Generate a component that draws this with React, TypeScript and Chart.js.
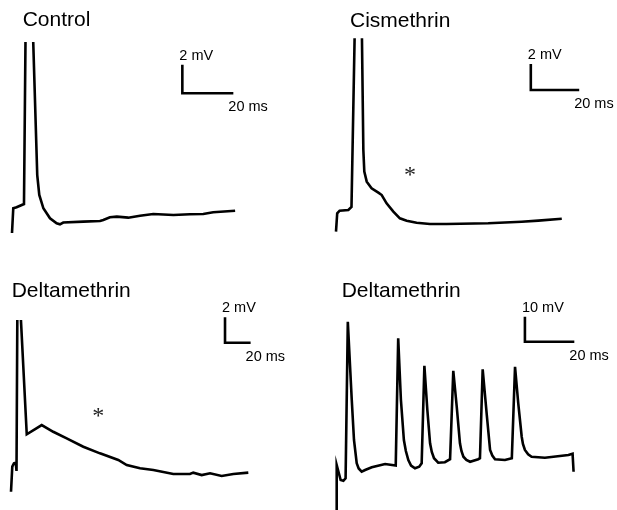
import { useEffect, useRef } from 'react';
import { Chart, registerables } from 'chart.js';

Chart.register(...registerables);

// ---------- data ----------
const panelTitles = ['Control', 'Cismethrin', 'Deltamethrin', 'Deltamethrin'];

const controlTimeMs = [0, 0.5, 1.8, 4.7, 6.0, 9.9, 10.7, 12.3, 14.9, 17.5, 18.8, 20.1, 28.0, 34.5, 35.8, 38.4, 41.1, 45.6, 50.2, 55.4, 63.3, 69.8, 75.0, 78.9, 87.5];
const controlMv = [0, 1.74, 1.81, 2.04, 27.3, 4.08, 2.68, 1.74, 1.04, 0.68, 0.61, 0.74, 0.8, 0.85, 0.92, 1.11, 1.15, 1.08, 1.22, 1.34, 1.27, 1.32, 1.34, 1.46, 1.57];

const cismethrinTimeMs = [0, 0.5, 1.5, 5.1, 6.4, 9.5, 11.3, 11.7, 12.7, 14.7, 17.5, 18.9, 20.9, 23.7, 26.4, 29.2, 33.3, 38.8, 45.7, 62.9, 76.7, 83.6, 93.3];
const cismethrinMv = [0, 1.42, 1.62, 1.67, 1.9, 33.2, 6.28, 4.62, 3.85, 3.34, 3.0, 2.82, 2.18, 1.54, 1.03, 0.85, 0.69, 0.59, 0.59, 0.65, 0.77, 0.85, 1.0];

const deltaSingleTimeMs = [0, 1.0, 2.3, 3.7, 4.3, 5.2, 12.3, 24.0, 33.0, 43.5, 56.5, 69.5, 83.8, 90.4, 100.8, 111.2, 126.8, 139.8, 142.4, 149.0, 155.5, 164.6, 173.7, 185.4];
const deltaSingleMv = [0, 1.97, 2.24, 2.28, 1.63, 18.6, 4.52, 5.25, 4.72, 4.2, 3.54, 3.02, 2.5, 2.1, 1.84, 1.71, 1.39, 1.39, 1.5, 1.31, 1.45, 1.24, 1.39, 1.5];

const deltaBurstTimeMs = [
  0, 0, 1.6, 2.7, 3.6, 4.5, 6.1, 7.0, 8.1, 8.9, 10.1, 11.5, 14.2, 19.6, 23.9,
  24.9, 26.0, 27.2, 28.0, 29.0, 30.1, 31.7, 33.4, 34.4,
  35.5, 36.7, 37.8, 38.5, 39.4, 41.1, 43.8, 45.9,
  47.2, 48.6, 49.9, 50.5, 51.3, 52.5, 54.0, 57.3, 58.0,
  59.1, 60.7, 62.1, 63.0, 64.1, 68.1, 70.9,
  72.2, 73.5, 74.9, 75.4, 76.2, 77.5, 78.9, 84.3, 93.8, 95.5, 95.9,
];
const deltaBurstMv = [
  -1, 18.0, 12.0, 11.7, 12.7, 75.3, 44.0, 28.0, 18.7, 16.6, 15.3, 16.0, 17.1, 18.4, 17.8,
  68.7, 44.0, 28.0, 23.6, 20.0, 17.8, 16.7, 17.3, 18.7,
  57.7, 40.0, 26.7, 23.2, 20.7, 18.9, 19.1, 20.3,
  55.7, 41.3, 26.7, 23.6, 21.3, 20.0, 19.3, 20.3, 20.7,
  56.3, 38.7, 24.0, 21.8, 20.3, 20.0, 20.7,
  57.3, 42.7, 29.3, 26.4, 24.0, 22.3, 21.3, 20.9, 22.0, 22.5, 15.3,
];

const traceTimes = [controlTimeMs, cismethrinTimeMs, deltaSingleTimeMs, deltaBurstTimeMs];
const traceValues = [controlMv, cismethrinMv, deltaSingleMv, deltaBurstMv];

const scaleBarMs = [20, 20, 20, 20];
const scaleBarMv = [2, 2, 2, 10];
const scaleBarMsLabels = ['20 ms', '20 ms', '20 ms', '20 ms'];
const scaleBarMvLabels = ['2 mV', '2 mV', '2 mV', '10 mV'];

// ---------- layout (page pixels) ----------
type Layout = {
  left: number; top: number; width: number; height: number;
  clipTop: number; originX: number; originY: number;
  pxPerMs: number; pxPerMv: number;
  titleX: number; titleY: number;
  barAt: { ms: number; mv: number };
  star: { ms: number; mv: number } | null;
};

const layouts: Layout[] = [
  { left: 0, top: 0, width: 308, height: 255, clipTop: 42, originX: 12, originY: 233, pxPerMs: 2.55, pxPerMv: 14.2, titleX: 22.7, titleY: 26, barAt: { ms: 66.8, mv: 9.84 }, star: null },
  { left: 308, top: 0, width: 309, height: 255, clipTop: 38.3, originX: 336, originY: 231.7, pxPerMs: 2.42, pxPerMv: 13, titleX: 350, titleY: 26.5, barAt: { ms: 80.5, mv: 10.9 }, star: { ms: 30.6, mv: 4.6 } },
  { left: 0, top: 255, width: 308, height: 255, clipTop: 320, originX: 11, originY: 491.7, pxPerMs: 1.28, pxPerMv: 12.7, titleX: 11.7, titleY: 297, barAt: { ms: 167.2, mv: 11.73 }, star: { ms: 68.2, mv: 6.22 } },
  { left: 308, top: 255, width: 309, height: 255, clipTop: 255, originX: 336.7, originY: 510, pxPerMs: 2.47, pxPerMv: 2.5, titleX: 341.7, titleY: 297, barAt: { ms: 76.2, mv: 67.3 }, star: null },
];

const SANS = '"Liberation Sans", Arial, sans-serif';
const SERIF = '"Liberation Serif", "Times New Roman", serif';
const INK = '#000000';

function Panel({ index }: { index: number }) {
  const ref = useRef<HTMLCanvasElement | null>(null);

  useEffect(() => {
    const canvas = ref.current;
    if (!canvas) return;
    const L = layouts[index];
    const times = traceTimes[index];
    const vals = traceValues[index];
    const trace = times.map((t, i) => ({ x: t, y: vals[i] }));
    const b = L.barAt;
    const bar = [
      { x: b.ms, y: b.mv + scaleBarMv[index] },
      { x: b.ms, y: b.mv },
      { x: b.ms + scaleBarMs[index], y: b.mv },
    ];

    const areaLeft = L.left;
    const areaRight = L.left + L.width;
    const areaTop = L.clipTop;
    const areaBottom = L.top + L.height;

    const textPlugin = {
      id: 'panelText',
      afterDraw(chart: any) {
        const ctx = chart.ctx;
        const xs = chart.scales.x;
        const ys = chart.scales.y;
        ctx.save();
        ctx.fillStyle = INK;
        ctx.textBaseline = 'alphabetic';
        ctx.textAlign = 'left';
        ctx.font = `21px ${SANS}`;
        ctx.fillText(panelTitles[index], L.titleX - L.left, L.titleY - L.top);

        const bx = xs.getPixelForValue(b.ms);
        const by = ys.getPixelForValue(b.mv);
        const byTop = ys.getPixelForValue(b.mv + scaleBarMv[index]);
        const bxRight = xs.getPixelForValue(b.ms + scaleBarMs[index]);
        ctx.font = `14.5px ${SANS}`;
        ctx.fillText(scaleBarMvLabels[index], bx - 3, byTop - 5);
        ctx.fillText(scaleBarMsLabels[index], bxRight - 5, by + 18);

        if (L.star) {
          const sx = xs.getPixelForValue(L.star.ms);
          const sy = ys.getPixelForValue(L.star.mv);
          ctx.font = `24px ${SERIF}`;
          ctx.fillStyle = '#222222';
          const m = ctx.measureText('*');
          const w = m.actualBoundingBoxLeft + m.actualBoundingBoxRight;
          const drawX = sx - w / 2 + m.actualBoundingBoxLeft;
          const drawY = sy + (m.actualBoundingBoxAscent - m.actualBoundingBoxDescent) / 2;
          ctx.fillText('*', drawX, drawY);
        }
        ctx.restore();
      },
    };

    const chart = new Chart(canvas, {
      type: 'line',
      data: {
        datasets: [
          {
            data: trace,
            borderColor: INK,
            borderWidth: 2.6,
            pointRadius: 0,
            tension: 0,
            fill: false,
            borderJoinStyle: 'miter',
            clip: { top: 0, left: 4, right: 4, bottom: 4 } as any,
          },
          {
            data: bar,
            borderColor: INK,
            borderWidth: 2.6,
            pointRadius: 0,
            tension: 0,
            fill: false,
            borderJoinStyle: 'miter',
            clip: false as any,
          },
        ],
      },
      options: {
        animation: false,
        responsive: false,
        maintainAspectRatio: false,
        layout: { padding: { top: L.clipTop - L.top, left: 0, right: 0, bottom: 0 } },
        plugins: {
          legend: { display: false },
          title: { display: false },
          tooltip: { enabled: false },
        },
        events: [],
        scales: {
          x: {
            type: 'linear',
            display: false,
            min: (areaLeft - L.originX) / L.pxPerMs,
            max: (areaRight - L.originX) / L.pxPerMs,
          },
          y: {
            type: 'linear',
            display: false,
            min: (L.originY - areaBottom) / L.pxPerMv,
            max: (L.originY - areaTop) / L.pxPerMv,
          },
        },
      },
      plugins: [textPlugin],
    });
    return () => chart.destroy();
  }, [index]);

  const L = layouts[index];
  return (
    <canvas
      ref={ref}
      width={L.width}
      height={L.height}
      style={{ position: 'absolute', left: L.left, top: L.top, width: L.width, height: L.height }}
    />
  );
}

export default function App() {
  return (
    <div style={{ position: 'fixed', left: 0, top: 0, width: 617, height: 510, background: '#ffffff', overflow: 'hidden' }}>
      {layouts.map((_, i) => (
        <Panel key={i} index={i} />
      ))}
    </div>
  );
}
